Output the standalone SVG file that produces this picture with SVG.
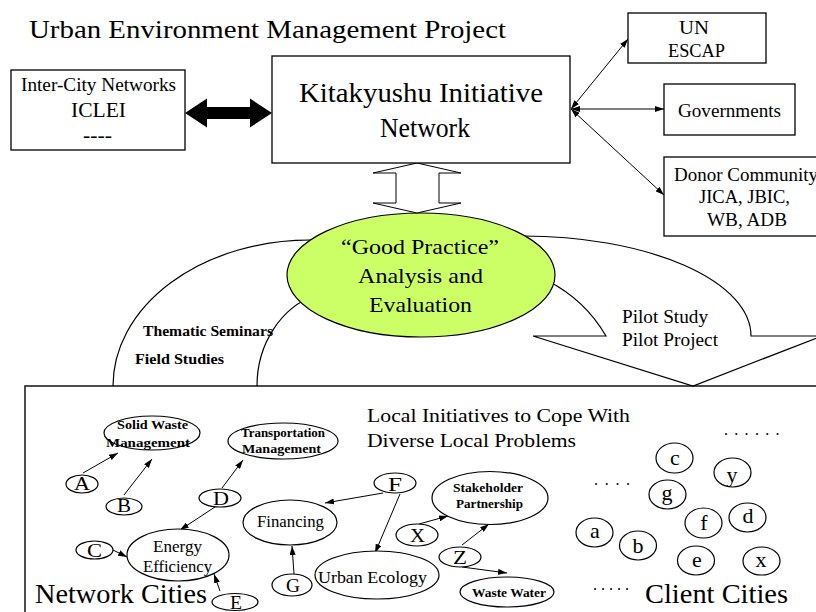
<svg xmlns="http://www.w3.org/2000/svg" width="816" height="612" viewBox="0 0 816 612">
<style>
.t{font-family:"Liberation Serif","Times New Roman",Tinos,serif;fill:#000}
.b{font-weight:bold}
.m{text-anchor:middle}
.box{fill:#fff;stroke:#000;stroke-width:1.3}
.nd{fill:#fff;stroke:#000;stroke-width:1.2}
.ln{fill:none;stroke:#000;stroke-width:1}
.arc{fill:none;stroke:#000;stroke-width:1.2}
</style>
<defs>
<marker id="ah" markerUnits="userSpaceOnUse" markerWidth="9" markerHeight="6" refX="9" refY="3" orient="auto-start-reverse">
<path d="M0,0 L9,3 L0,6 z" fill="#000"/>
</marker>
</defs>
<rect width="816" height="612" fill="#fff"/>
<text class="t" x="29" y="38" font-size="26" textLength="477" lengthAdjust="spacingAndGlyphs">Urban Environment Management Project</text>

<g id="bottom-area">
<rect x="25" y="386" width="800" height="240" fill="#fff" stroke="#222" stroke-width="1.6"/>
</g>

<g id="flows">
<path class="arc" d="M113,386 A197,146 0 0 1 310,240 L330,240"/>
<path class="arc" d="M257,386 A83,95 0 0 1 316,295"/>
<path class="arc" d="M505,236 L523,236 A228,100 0 0 1 751,336 L822,336 L693,386 L533,336 L606,336 Q585,300 548,281"/>
<text class="t b" x="143" y="336" font-size="15.5" textLength="130" lengthAdjust="spacingAndGlyphs">Thematic Seminars</text>
<text class="t b" x="135" y="364" font-size="15.5" textLength="89" lengthAdjust="spacingAndGlyphs">Field Studies</text>
<text class="t" x="622" y="323" font-size="18" textLength="86" lengthAdjust="spacingAndGlyphs">Pilot Study</text>
<text class="t" x="622" y="346" font-size="18" textLength="96" lengthAdjust="spacingAndGlyphs">Pilot Project</text>
</g>

<g id="good-practice">
<ellipse cx="421" cy="275" rx="134" ry="62" fill="#ccff66" stroke="#000" stroke-width="1.2"/>
<text class="t" x="341" y="254" font-size="22" textLength="158" lengthAdjust="spacingAndGlyphs">“Good Practice”</text>
<text class="t" x="358" y="283" font-size="22" textLength="125" lengthAdjust="spacingAndGlyphs">Analysis and</text>
<text class="t" x="369" y="312" font-size="22" textLength="103" lengthAdjust="spacingAndGlyphs">Evaluation</text>
</g>

<g id="connectors">
<polygon points="185,113 207,98.5 207,107 250,107 250,98.5 272,113 250,127.5 250,119 207,119 207,127.5" fill="#000"/>
<polygon points="417,163 461,173 439,173 439,203 461,203 417,213 373,203 396,203 396,173 373,173" fill="#fff" stroke="#000" stroke-width="1"/>
<line class="ln" x1="571" y1="109" x2="628" y2="39" marker-start="url(#ah)" marker-end="url(#ah)"/>
<line class="ln" x1="571" y1="109" x2="664" y2="109" marker-start="url(#ah)" marker-end="url(#ah)"/>
<line class="ln" x1="571" y1="109" x2="664" y2="195" marker-start="url(#ah)" marker-end="url(#ah)"/>
<line class="ln" x1="83" y1="473" x2="118" y2="453" marker-end="url(#ah)"/>
<line class="ln" x1="124" y1="495" x2="152" y2="459" marker-end="url(#ah)"/>
<line class="ln" x1="222" y1="488" x2="243" y2="460" marker-end="url(#ah)"/>
<line class="ln" x1="221" y1="503" x2="180" y2="530" marker-end="url(#ah)"/>
<line class="ln" x1="113" y1="550" x2="127" y2="557" marker-end="url(#ah)"/>
<line class="ln" x1="220" y1="591" x2="214" y2="574" marker-end="url(#ah)"/>
<line class="ln" x1="383" y1="493" x2="325" y2="503" marker-end="url(#ah)"/>
<line class="ln" x1="400" y1="494" x2="375" y2="553" marker-end="url(#ah)"/>
<line class="ln" x1="294" y1="574" x2="292" y2="546" marker-end="url(#ah)"/>
<line class="ln" x1="419" y1="524" x2="448" y2="516" marker-end="url(#ah)"/>
<line class="ln" x1="462" y1="545" x2="489" y2="524" marker-end="url(#ah)"/>
<line class="ln" x1="462" y1="567" x2="507" y2="573" marker-end="url(#ah)"/>
</g>

<g id="inter-city">
<rect class="box" x="11" y="70" width="174" height="80"/>
<text class="t" x="21" y="91" font-size="18" textLength="155" lengthAdjust="spacingAndGlyphs">Inter-City Networks</text>
<text class="t" x="71" y="117" font-size="22" textLength="55" lengthAdjust="spacingAndGlyphs">ICLEI</text>
<text class="t" x="83" y="142" font-size="22" textLength="29" lengthAdjust="spacingAndGlyphs">----</text>
</g>

<g id="kitakyushu">
<rect class="box" x="272" y="56" width="298" height="107"/>
<text class="t" x="299" y="102" font-size="27" textLength="244" lengthAdjust="spacingAndGlyphs">Kitakyushu Initiative</text>
<text class="t" x="380" y="137" font-size="27" textLength="90" lengthAdjust="spacingAndGlyphs">Network</text>
</g>

<g id="un-escap">
<rect class="box" x="628" y="13" width="138" height="50"/>
<text class="t" x="679" y="34" font-size="18" textLength="30" lengthAdjust="spacingAndGlyphs">UN</text>
<text class="t" x="668" y="57" font-size="18" textLength="57" lengthAdjust="spacingAndGlyphs">ESCAP</text>
</g>

<g id="governments">
<rect class="box" x="664" y="84" width="131" height="51"/>
<text class="t" x="678" y="117" font-size="18" textLength="103" lengthAdjust="spacingAndGlyphs">Governments</text>
</g>

<g id="donor">
<rect class="box" x="664" y="157" width="172" height="79"/>
<text class="t" x="674" y="181" font-size="18" textLength="144" lengthAdjust="spacingAndGlyphs">Donor Community</text>
<text class="t" x="699" y="203" font-size="18" textLength="91" lengthAdjust="spacingAndGlyphs">JICA, JBIC,</text>
<text class="t" x="707" y="226" font-size="18" textLength="80" lengthAdjust="spacingAndGlyphs">WB, ADB</text>
</g>

<g id="local-initiatives">
<text class="t" x="367" y="422" font-size="19" textLength="263" lengthAdjust="spacingAndGlyphs">Local Initiatives to Cope With</text>
<text class="t" x="367" y="447" font-size="19" textLength="209" lengthAdjust="spacingAndGlyphs">Diverse Local Problems</text>
</g>

<g id="solid-waste">
<ellipse class="nd" cx="152" cy="433" rx="48" ry="17"/>
<text class="t b" x="117" y="429" font-size="13" textLength="71" lengthAdjust="spacingAndGlyphs">Solid Waste</text>
<text class="t b" x="106" y="447" font-size="13" textLength="84" lengthAdjust="spacingAndGlyphs">Management</text>
</g>
<g id="transportation">
<ellipse class="nd" cx="283" cy="441" rx="55" ry="18"/>
<text class="t b" x="241" y="437" font-size="13" textLength="84" lengthAdjust="spacingAndGlyphs">Transportation</text>
<text class="t b" x="242" y="453" font-size="13" textLength="79" lengthAdjust="spacingAndGlyphs">Management</text>
</g>
<g id="energy">
<ellipse class="nd" cx="178" cy="555" rx="51" ry="26"/>
<text class="t" x="153" y="552" font-size="17" textLength="49" lengthAdjust="spacingAndGlyphs">Energy</text>
<text class="t" x="143" y="572" font-size="17" textLength="69" lengthAdjust="spacingAndGlyphs">Efficiency</text>
</g>
<g id="financing">
<ellipse class="nd" cx="290" cy="522.5" rx="47" ry="22.5"/>
<text class="t" x="257" y="527" font-size="17" textLength="67" lengthAdjust="spacingAndGlyphs">Financing</text>
</g>
<g id="urban-ecology">
<ellipse class="nd" cx="377" cy="575" rx="62" ry="24"/>
<text class="t" x="318" y="583" font-size="17" textLength="109" lengthAdjust="spacingAndGlyphs">Urban Ecology</text>
</g>
<g id="stakeholder">
<ellipse class="nd" cx="490" cy="498" rx="58" ry="26.5"/>
<text class="t b" x="453" y="492" font-size="13" textLength="70" lengthAdjust="spacingAndGlyphs">Stakeholder</text>
<text class="t b" x="456" y="508" font-size="13" textLength="67" lengthAdjust="spacingAndGlyphs">Partnership</text>
</g>
<g id="waste-water">
<ellipse class="nd" cx="507" cy="592" rx="47" ry="15"/>
<text class="t b" x="472" y="597" font-size="13" textLength="74" lengthAdjust="spacingAndGlyphs">Waste Water</text>
</g>

<g id="node-a"><ellipse class="nd" cx="82" cy="484" rx="16" ry="9"/><text class="t" x="74" y="490" font-size="18" textLength="16" lengthAdjust="spacingAndGlyphs">A</text></g>
<g id="node-b"><ellipse class="nd" cx="124" cy="506.5" rx="18" ry="8.5"/><text class="t" x="117" y="512" font-size="18" textLength="14" lengthAdjust="spacingAndGlyphs">B</text></g>
<g id="node-c"><ellipse class="nd" cx="94.5" cy="550" rx="18.5" ry="9"/><text class="t" x="87" y="557" font-size="18" textLength="15" lengthAdjust="spacingAndGlyphs">C</text></g>
<g id="node-d"><ellipse class="nd" cx="220" cy="498" rx="21" ry="9"/><text class="t" x="213" y="505" font-size="18" textLength="16" lengthAdjust="spacingAndGlyphs">D</text></g>
<g id="node-e"><ellipse class="nd" cx="235" cy="602" rx="23" ry="8.5"/><text class="t" x="230" y="609" font-size="18" textLength="12" lengthAdjust="spacingAndGlyphs">E</text></g>
<g id="node-f"><ellipse class="nd" cx="395" cy="483" rx="21" ry="10"/><text class="t" x="388" y="491" font-size="18" textLength="14" lengthAdjust="spacingAndGlyphs">F</text></g>
<g id="node-g"><ellipse class="nd" cx="292" cy="585" rx="20" ry="11"/><text class="t" x="286" y="592" font-size="18" textLength="14" lengthAdjust="spacingAndGlyphs">G</text></g>
<g id="node-x"><ellipse class="nd" cx="417" cy="535" rx="21" ry="11"/><text class="t" x="410" y="542" font-size="18" textLength="15" lengthAdjust="spacingAndGlyphs">X</text></g>
<g id="node-z"><ellipse class="nd" cx="460" cy="557" rx="21" ry="10"/><text class="t" x="453" y="564" font-size="18" textLength="14" lengthAdjust="spacingAndGlyphs">Z</text></g>

<g id="client-c"><ellipse class="nd" cx="674.5" cy="458" rx="18.5" ry="15"/><text class="t m" x="675" y="465" font-size="22">c</text></g>
<g id="client-y"><ellipse class="nd" cx="732.5" cy="472.5" rx="18.5" ry="14.5"/><text class="t m" x="732" y="482" font-size="22">y</text></g>
<g id="client-g"><ellipse class="nd" cx="667.5" cy="494.5" rx="18.5" ry="14.5"/><text class="t m" x="667" y="500" font-size="22">g</text></g>
<g id="client-a"><ellipse class="nd" cx="594.5" cy="532.5" rx="18.5" ry="14.5"/><text class="t m" x="595" y="538" font-size="22">a</text></g>
<g id="client-b"><ellipse class="nd" cx="638" cy="545.5" rx="18.5" ry="14.5"/><text class="t m" x="638" y="553" font-size="22">b</text></g>
<g id="client-f"><ellipse class="nd" cx="703.5" cy="523" rx="18.5" ry="15"/><text class="t m" x="704" y="530" font-size="22">f</text></g>
<g id="client-d"><ellipse class="nd" cx="747.5" cy="517.5" rx="18.5" ry="14.5"/><text class="t m" x="748" y="523" font-size="22">d</text></g>
<g id="client-e"><ellipse class="nd" cx="696" cy="560.5" rx="18.5" ry="14.5"/><text class="t m" x="697" y="567" font-size="22">e</text></g>
<g id="client-x"><ellipse class="nd" cx="761.5" cy="561" rx="18.5" ry="14"/><text class="t m" x="761" y="567" font-size="22">x</text></g>

<g id="labels">
<text class="t" x="724" y="435" font-size="16" letter-spacing="6.3">......</text>
<text class="t" x="594" y="485" font-size="16" letter-spacing="6.7">....</text>
<text class="t" x="593" y="590" font-size="16" letter-spacing="4">.....</text>
<text class="t" x="35" y="603" font-size="28" textLength="172" lengthAdjust="spacingAndGlyphs">Network Cities</text>
<text class="t" x="645" y="603" font-size="28" textLength="143" lengthAdjust="spacingAndGlyphs">Client Cities</text>
</g>
</svg>
